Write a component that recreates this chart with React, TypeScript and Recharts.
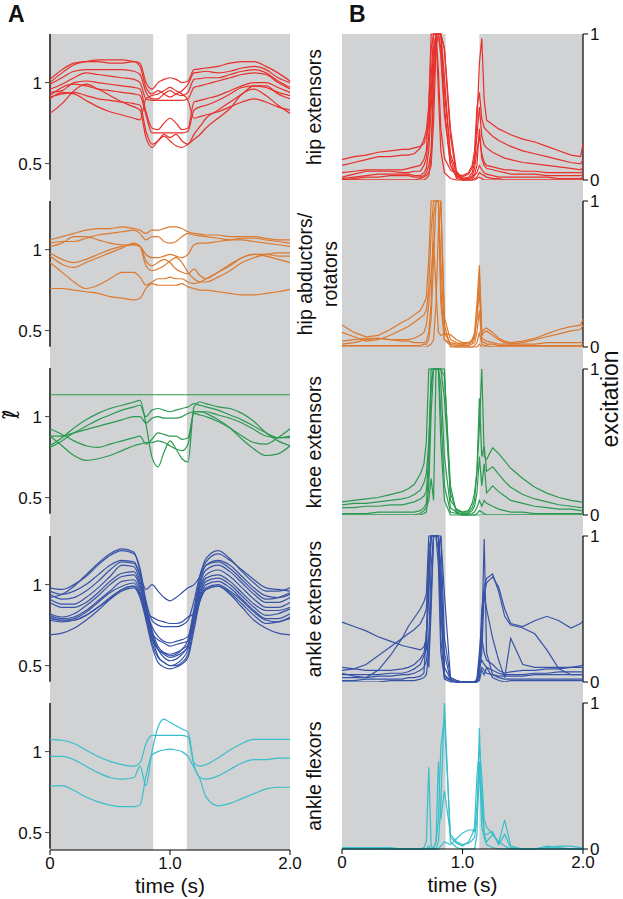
import React from 'react'
import { LineChart, Line, XAxis, YAxis, ReferenceArea, ReferenceLine, Label } from 'recharts'

const FONT = '"Liberation Sans", Arial, Helvetica, sans-serif'
const GRAY = '#d1d2d4'
const GAP_START = 0.86 // white band = swing phase
const GAP_END = 1.14

// time grid (s) for the fibre-length panels (A)
const leftTimes = [0, 0.1, 0.2, 0.3, 0.4, 0.5, 0.6, 0.7, 0.75, 0.8, 0.85, 0.9, 0.95, 1.0, 1.05, 1.1, 1.15, 1.2, 1.25, 1.3, 1.4, 1.5, 1.6, 1.7, 1.8, 1.9, 2.0]

// time grid (s) for the excitation panels (B)
const rightTimes = [0, 0.1, 0.2, 0.3, 0.4, 0.5, 0.55, 0.6, 0.65, 0.68, 0.7, 0.72, 0.74, 0.76, 0.78, 0.8, 0.82, 0.85, 0.9, 0.95, 1.0, 1.05, 1.08, 1.1, 1.12, 1.14, 1.16, 1.18, 1.2, 1.25, 1.3, 1.35, 1.4, 1.5, 1.6, 1.7, 1.8, 1.9, 1.98, 2.0]

const timeTicks = [0, 1, 2]
const lengthTicks = [0.5, 1]
const excitationTicks = [0, 1]

// ---- A: normalised fibre length ----
const hipExtensorLength = [
  [1.0, 1.06, 1.11, 1.13, 1.14, 1.14, 1.14, 1.13, 1.12, 1.0, 0.96, 1.0, 1.02, 1.03, 1.02, 1.0, 1.01, 1.08, 1.085, 1.09, 1.1, 1.12, 1.13, 1.13, 1.1, 1.06, 1.01],
  [1.02, 1.08, 1.12, 1.13, 1.13, 1.12, 1.12, 1.13, 1.1, 0.97, 0.93, 0.95, 0.93, 0.91, 0.93, 0.95, 0.99, 1.06, 1.065, 1.07, 1.06, 1.07, 1.09, 1.1, 1.08, 1.03, 1.0],
  [0.99, 1.03, 1.07, 1.08, 1.08, 1.08, 1.08, 1.07, 1.05, 0.94, 0.9, 0.9, 0.93, 0.95, 0.93, 0.92, 0.94, 1.02, 1.025, 1.03, 1.03, 1.05, 1.07, 1.08, 1.06, 1.01, 0.97],
  [0.96, 0.99, 1.03, 1.06, 1.05, 1.04, 1.03, 1.02, 1.0, 0.9, 0.89, 0.89, 0.89, 0.89, 0.89, 0.89, 0.9, 0.97, 0.98, 0.99, 1.01, 1.03, 1.05, 1.06, 1.05, 1.0, 0.96],
  [0.94, 0.95, 1.0, 1.01, 1.0, 0.99, 0.98, 0.97, 0.96, 0.82, 0.72, 0.71, 0.75, 0.78, 0.75, 0.71, 0.72, 0.88, 0.89, 0.9, 0.92, 0.95, 0.98, 1.0, 1.0, 0.97, 0.94],
  [0.92, 0.97, 0.99, 0.98, 0.96, 0.95, 0.94, 0.93, 0.92, 0.8, 0.69, 0.69, 0.69, 0.69, 0.69, 0.69, 0.7, 0.83, 0.85, 0.86, 0.89, 0.93, 0.97, 0.98, 0.97, 0.94, 0.92],
  [0.91, 0.93, 0.94, 0.92, 0.9, 0.89, 0.88, 0.87, 0.86, 0.7, 0.62, 0.64, 0.68, 0.66, 0.68, 0.64, 0.62, 0.68, 0.73, 0.78, 0.83, 0.88, 0.93, 0.98, 0.98, 0.93, 0.9],
  [0.81, 0.87, 0.95, 0.99, 0.96, 0.92, 0.88, 0.85, 0.83, 0.66, 0.6, 0.64, 0.67, 0.64, 0.61, 0.6, 0.62, 0.65, 0.68, 0.72, 0.78, 0.84, 0.93, 0.96, 0.92, 0.86, 0.81],
  [0.9, 0.94, 0.93, 0.89, 0.85, 0.82, 0.8, 0.78, 0.77, 0.9, 0.92, 0.93, 0.95, 0.97, 0.95, 0.93, 0.89, 0.78, 0.79, 0.8, 0.82, 0.85, 0.88, 0.9, 0.88, 0.85, 0.83],
]

const hipAbductorLength = [
  [1.06, 1.08, 1.1, 1.12, 1.13, 1.13, 1.14, 1.13, 1.12, 1.1, 1.12, 1.12, 1.13, 1.14, 1.14, 1.13, 1.11, 1.1, 1.095, 1.09, 1.09, 1.08, 1.08, 1.08, 1.07, 1.06, 1.06],
  [1.04, 1.05, 1.05, 1.07, 1.09, 1.1, 1.11, 1.12, 1.1, 1.06, 1.08, 1.08, 1.05, 1.04, 1.05, 1.08, 1.1, 1.09, 1.085, 1.08, 1.07, 1.06, 1.06, 1.05, 1.04, 1.03, 1.02],
  [0.98, 0.94, 0.92, 0.94, 0.97, 1.0, 1.02, 1.03, 1.02, 0.93, 0.9, 0.92, 0.94, 0.92, 0.88, 0.86, 0.85, 0.88, 0.84, 0.82, 0.86, 0.91, 0.95, 0.97, 0.97, 0.96, 0.96],
  [0.96, 0.91, 0.89, 0.92, 0.95, 0.98, 1.01, 1.04, 1.02, 0.9, 0.87, 0.88, 0.9, 0.93, 0.95, 0.92, 0.86, 0.82, 0.8, 0.8, 0.83, 0.87, 0.92, 0.95, 0.97, 0.98, 0.98],
  [0.92, 0.86, 0.8, 0.76, 0.78, 0.82, 0.86, 0.86, 0.83, 0.78, 0.8, 0.82, 0.82, 0.83, 0.82, 0.82, 0.8, 0.79, 0.8, 0.82, 0.86, 0.9, 0.95, 0.97, 0.96, 0.94, 0.92],
  [0.76, 0.76, 0.75, 0.74, 0.73, 0.71, 0.7, 0.69, 0.7, 0.76, 0.79, 0.78, 0.78, 0.78, 0.78, 0.79, 0.77, 0.76, 0.75, 0.75, 0.74, 0.73, 0.72, 0.72, 0.73, 0.74, 0.755],
  [1.02, 1.04, 1.08, 1.08, 1.06, 1.04, 1.03, 1.03, 1.02, 0.97, 0.95, 0.95, 0.96, 0.97, 0.96, 0.95, 0.97, 1.03, 1.04, 1.04, 1.05, 1.06, 1.07, 1.07, 1.06, 1.05, 1.04],
]

const kneeExtensorLength = [
  [1.135, 1.135, 1.135, 1.135, 1.135, 1.135, 1.135, 1.135, 1.135, 1.135, 1.135, 1.135, 1.135, 1.135, 1.135, 1.135, 1.135, 1.135, 1.135, 1.135, 1.135, 1.135, 1.135, 1.135, 1.135, 1.135, 1.135],
  [0.82, 0.87, 0.93, 0.98, 1.02, 1.05, 1.07, 1.09, 1.1, 0.95, 0.75, 0.69, 0.78, 0.85, 0.8, 0.74, 0.72, 1.06, 1.09, 1.08, 1.06, 1.05, 1.02, 0.97, 0.9, 0.85, 0.82],
  [0.81, 0.85, 0.9, 0.94, 0.98, 1.01, 1.04, 1.06, 1.07, 1.0, 1.04, 1.05, 1.04, 1.03, 1.04, 1.05, 1.06, 1.08, 1.07, 1.06, 1.04, 1.01, 0.98, 0.94, 0.9, 0.87, 0.87],
  [0.88, 0.88, 0.9, 0.92, 0.94, 0.96, 0.98, 1.0, 1.0, 0.96, 0.99, 1.0, 0.99, 0.99, 0.99, 1.0, 1.02, 1.03, 1.03, 1.03, 1.01, 0.99, 0.96, 0.92, 0.88, 0.87, 0.88],
  [0.925, 0.89, 0.85, 0.82, 0.81, 0.83, 0.85, 0.87, 0.88, 0.83, 0.86, 0.9, 0.89, 0.88, 0.88, 0.86, 0.87, 1.02, 1.01, 1.0, 0.97, 0.93, 0.88, 0.84, 0.83, 0.87, 0.925],
  [0.88, 0.82, 0.76, 0.73, 0.74, 0.76, 0.79, 0.82, 0.83, 0.84, 0.84, 0.85, 0.84, 0.82, 0.8, 0.79, 0.83, 1.03, 1.03, 1.02, 0.98, 0.93, 0.86, 0.8, 0.76, 0.77, 0.82],
]

const ankleExtensorLength = [
  [0.92, 0.94, 0.99, 1.06, 1.13, 1.19, 1.22, 1.2, 1.08, 0.88, 0.72, 0.62, 0.58, 0.56, 0.57, 0.6, 0.66, 0.85, 1.05, 1.16, 1.21, 1.16, 1.08, 1.01, 0.96, 0.96, 0.98],
  [0.98, 0.97, 1.0, 1.05, 1.12, 1.18, 1.21, 1.19, 1.1, 0.9, 0.78, 0.75, 0.74, 0.74, 0.74, 0.75, 0.78, 0.9, 1.06, 1.14, 1.19, 1.15, 1.09, 1.03, 0.98, 0.97, 0.96],
  [0.96, 0.94, 0.96, 1.0, 1.06, 1.12, 1.15, 1.14, 1.06, 0.97, 1.0, 0.96, 0.92, 0.9, 0.92, 0.95, 0.98, 1.0, 1.05, 1.12, 1.15, 1.12, 1.05, 0.98, 0.93, 0.92, 0.94],
  [0.94, 0.91, 0.92, 0.96, 1.02, 1.09, 1.14, 1.13, 1.05, 0.88, 0.7, 0.6, 0.55, 0.53, 0.54, 0.57, 0.62, 0.82, 1.02, 1.12, 1.14, 1.1, 1.03, 0.96, 0.91, 0.92, 0.95],
  [0.91, 0.88, 0.88, 0.92, 0.98, 1.05, 1.12, 1.11, 1.02, 0.86, 0.68, 0.56, 0.52, 0.5, 0.51, 0.54, 0.6, 0.8, 1.0, 1.09, 1.12, 1.08, 1.01, 0.94, 0.89, 0.89, 0.92],
  [0.89, 0.86, 0.86, 0.89, 0.95, 1.02, 1.07, 1.08, 1.0, 0.85, 0.74, 0.68, 0.65, 0.64, 0.65, 0.66, 0.68, 0.82, 0.98, 1.06, 1.09, 1.05, 0.98, 0.91, 0.86, 0.86, 0.89],
  [0.82, 0.8, 0.82, 0.87, 0.93, 1.0, 1.05, 1.06, 0.98, 0.84, 0.7, 0.66, 0.64, 0.62, 0.63, 0.64, 0.65, 0.8, 0.96, 1.04, 1.06, 1.02, 0.95, 0.88, 0.84, 0.84, 0.86],
  [0.81, 0.79, 0.8, 0.84, 0.9, 0.96, 1.02, 1.03, 0.96, 0.82, 0.68, 0.6, 0.57, 0.55, 0.56, 0.58, 0.62, 0.78, 0.94, 1.02, 1.04, 1.0, 0.93, 0.86, 0.81, 0.82, 0.85],
  [0.8, 0.78, 0.79, 0.83, 0.89, 0.95, 0.99, 1.01, 0.94, 0.8, 0.64, 0.55, 0.52, 0.5, 0.5, 0.52, 0.57, 0.75, 0.92, 1.0, 1.02, 0.98, 0.91, 0.84, 0.79, 0.79, 0.82],
  [0.79, 0.78, 0.78, 0.81, 0.86, 0.92, 0.97, 0.99, 0.93, 0.82, 0.8, 0.78, 0.77, 0.76, 0.76, 0.77, 0.8, 0.82, 0.92, 0.98, 1.0, 0.96, 0.9, 0.83, 0.78, 0.77, 0.8],
  [0.78, 0.77, 0.78, 0.81, 0.86, 0.91, 0.96, 0.98, 0.92, 0.78, 0.62, 0.52, 0.49, 0.48, 0.49, 0.51, 0.55, 0.72, 0.9, 0.97, 0.99, 0.95, 0.88, 0.81, 0.76, 0.77, 0.79],
  [0.69, 0.7, 0.73, 0.78, 0.84, 0.91, 0.97, 0.99, 0.93, 0.8, 0.66, 0.6, 0.58, 0.57, 0.58, 0.6, 0.63, 0.76, 0.9, 0.97, 0.99, 0.94, 0.86, 0.78, 0.73, 0.7, 0.69],
]

const ankleFlexorLength = [
  [1.076, 1.07, 1.05, 1.01, 0.97, 0.94, 0.92, 0.91, 0.93, 1.05, 1.1, 1.1, 1.1, 1.1, 1.1, 1.1, 1.09, 0.93, 0.91, 0.92, 0.96, 1.01, 1.05, 1.075, 1.076, 1.076, 1.076],
  [0.97, 0.97, 0.95, 0.91, 0.87, 0.84, 0.83, 0.84, 0.91, 0.79, 1.0, 1.15, 1.2, 1.18, 1.16, 1.14, 1.12, 0.92, 0.84, 0.83, 0.85, 0.89, 0.93, 0.95, 0.95, 0.96, 0.96],
  [0.786, 0.79, 0.76, 0.72, 0.69, 0.67, 0.66, 0.66, 0.67, 0.85, 0.98, 1.0, 1.01, 1.015, 1.01, 1.0, 0.97, 0.9, 0.83, 0.72, 0.665, 0.68, 0.71, 0.74, 0.77, 0.78, 0.78],
]

// ---- B: excitation ----
const hipExtensorExc = [
  [0.14, 0.16, 0.17, 0.19, 0.2, 0.21, 0.21, 0.22, 0.23, 0.25, 0.3, 0.38, 0.7, 1, 1, 1, 0.85, 0.45, 0.1, 0.03, 0.02, 0.04, 0.08, 0.15, 0.4, 0.8, 0.97, 0.55, 0.41, 0.38, 0.35, 0.33, 0.31, 0.28, 0.26, 0.23, 0.2, 0.17, 0.16, 0.25],
  [0.1, 0.12, 0.14, 0.16, 0.16, 0.17, 0.17, 0.18, 0.22, 0.28, 0.34, 0.5, 1, 1, 1, 0.75, 0.35, 0.15, 0.07, 0.04, 0.03, 0.05, 0.1, 0.2, 0.5, 0.6, 0.42, 0.36, 0.34, 0.3, 0.27, 0.25, 0.23, 0.2, 0.18, 0.16, 0.14, 0.12, 0.11, 0.14],
  [0.05, 0.06, 0.07, 0.07, 0.07, 0.07, 0.08, 0.09, 0.1, 0.14, 0.2, 0.5, 0.9, 1, 1, 1, 1, 0.6, 0.18, 0.05, 0.01, 0.02, 0.05, 0.12, 0.3, 0.5, 0.3, 0.24, 0.22, 0.19, 0.17, 0.15, 0.14, 0.12, 0.11, 0.1, 0.09, 0.08, 0.07, 0.09],
  [0.02, 0.04, 0.06, 0.06, 0.06, 0.05, 0.05, 0.06, 0.06, 0.1, 0.15, 0.3, 0.6, 0.9, 1, 1, 1, 0.9, 0.35, 0.06, 0.01, 0.01, 0.03, 0.08, 0.2, 0.3, 0.18, 0.12, 0.1, 0.09, 0.08, 0.07, 0.07, 0.06, 0.06, 0.05, 0.05, 0.05, 0.05, 0.06],
  [0.01, 0.02, 0.03, 0.04, 0.04, 0.04, 0.04, 0.03, 0.03, 0.05, 0.08, 0.2, 0.5, 0.8, 1, 1, 0.9, 0.5, 0.1, 0.02, 0.01, 0.01, 0.02, 0.04, 0.1, 0.35, 0.15, 0.1, 0.08, 0.07, 0.06, 0.05, 0.04, 0.04, 0.04, 0.03, 0.03, 0.03, 0.03, 0.04],
  [0, 0.01, 0.02, 0.02, 0.03, 0.03, 0.03, 0.02, 0.02, 0.03, 0.05, 0.1, 0.2, 0.6, 1, 1, 1, 0.9, 0.3, 0.03, 0, 0, 0.01, 0.03, 0.05, 0.1, 0.07, 0.05, 0.04, 0.03, 0.02, 0.02, 0.02, 0.02, 0.02, 0.02, 0.01, 0.01, 0.01, 0.02],
  [0, 0, 0, 0, 0, 0, 0, 0, 0.01, 0.02, 0.03, 0.05, 0.1, 0.4, 0.9, 1, 1, 0.7, 0.15, 0.01, 0, 0, 0, 0.01, 0.02, 0.05, 0.04, 0.03, 0.02, 0.01, 0.01, 0, 0, 0, 0, 0, 0, 0, 0, 0.01],
  [0, 0, 0, 0, 0, 0, 0, 0, 0, 0, 0.01, 0.03, 0.15, 0.8, 1, 0.6, 0.2, 0.05, 0.01, 0, 0, 0, 0, 0, 0.01, 0.02, 0.01, 0, 0, 0, 0, 0, 0, 0, 0, 0, 0, 0, 0, 0],
]

const hipAbductorExc = [
  [0.15, 0.1, 0.07, 0.08, 0.12, 0.17, 0.19, 0.22, 0.25, 0.3, 0.34, 0.6, 1, 1, 1, 1, 0.3, 0.05, 0.03, 0.02, 0.02, 0.03, 0.05, 0.1, 0.3, 0.56, 0.1, 0.12, 0.13, 0.1, 0.06, 0.04, 0.03, 0.04, 0.06, 0.09, 0.12, 0.14, 0.15, 0.19],
  [0.1, 0.07, 0.04, 0.05, 0.08, 0.12, 0.14, 0.17, 0.2, 0.22, 0.25, 0.4, 0.8, 1, 1, 1, 1, 0.2, 0.05, 0.03, 0.02, 0.02, 0.03, 0.06, 0.2, 0.5, 0.08, 0.1, 0.11, 0.08, 0.05, 0.03, 0.02, 0.03, 0.05, 0.07, 0.09, 0.11, 0.12, 0.15],
  [0.04, 0.05, 0.06, 0.06, 0.05, 0.05, 0.05, 0.06, 0.08, 0.1, 0.15, 0.3, 0.5, 0.72, 0.4, 0.1, 0.08, 0.09, 0.085, 0.05, 0.03, 0.03, 0.04, 0.08, 0.2, 0.38, 0.06, 0.05, 0.04, 0.03, 0.02, 0.02, 0.02, 0.02, 0.02, 0.03, 0.03, 0.03, 0.03, 0.04],
  [0.02, 0.03, 0.05, 0.06, 0.05, 0.04, 0.04, 0.03, 0.03, 0.03, 0.04, 0.1, 0.3, 0.9, 1, 1, 0.6, 0.1, 0.02, 0.01, 0.01, 0.01, 0.02, 0.03, 0.1, 0.25, 0.04, 0.03, 0.02, 0.02, 0.01, 0.01, 0.01, 0.01, 0.01, 0.01, 0.01, 0.01, 0.01, 0.02],
  [0.01, 0.01, 0.01, 0.01, 0.01, 0.01, 0.01, 0.01, 0.01, 0.02, 0.02, 0.05, 0.2, 0.6, 1, 1, 0.4, 0.05, 0.01, 0, 0, 0, 0, 0.01, 0.03, 0.1, 0.02, 0.01, 0.01, 0, 0, 0, 0, 0, 0, 0, 0, 0, 0, 0],
  [0, 0, 0, 0, 0, 0, 0, 0, 0, 0, 0, 0.01, 0.02, 0.05, 0.3, 0.8, 1, 0.15, 0, 0, 0, 0, 0, 0, 0, 0.02, 0, 0, 0, 0, 0, 0, 0, 0, 0, 0, 0, 0, 0, 0],
]

const kneeExtensorExc = [
  [0.09, 0.1, 0.11, 0.12, 0.14, 0.16, 0.18, 0.21, 0.28, 0.35, 0.5, 1, 1, 1, 1, 1, 1, 1, 0.1, 0.04, 0.02, 0.03, 0.08, 0.15, 0.3, 0.6, 1, 0.4, 0.38, 0.46, 0.42, 0.37, 0.32, 0.25, 0.19, 0.15, 0.12, 0.1, 0.09, 0.09],
  [0.07, 0.08, 0.08, 0.09, 0.1, 0.11, 0.12, 0.14, 0.17, 0.22, 0.28, 0.5, 0.9, 1, 1, 1, 1, 0.8, 0.15, 0.03, 0.02, 0.02, 0.05, 0.1, 0.3, 0.8, 0.4, 0.47, 0.3, 0.33, 0.28, 0.23, 0.19, 0.14, 0.11, 0.09, 0.07, 0.06, 0.05, 0.05],
  [0.05, 0.05, 0.06, 0.06, 0.07, 0.07, 0.08, 0.09, 0.11, 0.13, 0.16, 0.4, 1, 1, 1, 1, 0.9, 0.4, 0.05, 0.02, 0.01, 0.01, 0.03, 0.06, 0.15, 0.4, 0.2, 0.35, 0.15, 0.2, 0.16, 0.13, 0.1, 0.08, 0.06, 0.05, 0.04, 0.04, 0.03, 0.03],
  [0.01, 0.01, 0.01, 0.02, 0.02, 0.02, 0.02, 0.02, 0.03, 0.05, 0.08, 0.3, 0.9, 1, 1, 1, 0.7, 0.2, 0.02, 0.01, 0, 0, 0.01, 0.02, 0.05, 0.1, 0.06, 0.1, 0.08, 0.06, 0.04, 0.03, 0.02, 0.02, 0.01, 0.01, 0.01, 0.01, 0.01, 0.01],
  [0, 0, 0, 0, 0, 0, 0, 0, 0, 0.01, 0.02, 0.2, 0.7, 1, 1, 1, 0.5, 0.1, 0, 0, 0, 0, 0, 0, 0.01, 0.03, 0.02, 0.01, 0, 0, 0, 0, 0, 0, 0, 0, 0, 0, 0, 0],
  [0, 0, 0, 0, 0, 0, 0, 0, 0.01, 0.03, 0.05, 0.1, 0.25, 0.1, 1, 1, 1, 0.95, 0.2, 0.01, 0, 0, 0, 0, 0, 0, 0, 0, 0, 0, 0, 0, 0, 0, 0, 0, 0, 0, 0, 0],
]

const ankleExtensorExc = [
  [0.41, 0.38, 0.35, 0.31, 0.28, 0.25, 0.24, 0.23, 0.22, 0.24, 0.3, 0.6, 1, 1, 1, 1, 0.5, 0.05, 0.01, 0, 0, 0, 0, 0, 0.01, 0.1, 0.5, 0.65, 0.71, 0.74, 0.62, 0.45, 0.39, 0.37, 0.33, 0.22, 0.09, 0.05, 0.05, 0.05],
  [0.08, 0.09, 0.12, 0.18, 0.24, 0.3, 0.33, 0.36, 0.4, 0.45, 0.5, 0.8, 1, 1, 1, 1, 0.3, 0.02, 0, 0, 0, 0, 0, 0, 0.02, 0.2, 0.4, 0.6, 0.68, 0.72, 0.65, 0.5, 0.4, 0.38, 0.42, 0.45, 0.42, 0.37, 0.4, 0.42],
  [0.06, 0.04, 0.03, 0.08, 0.18, 0.3, 0.38, 0.44, 0.5, 0.55, 0.6, 1, 1, 1, 1, 0.8, 0.2, 0.03, 0.01, 0, 0, 0, 0, 0, 0.02, 0.1, 0.2, 0.6, 0.5, 0.3, 0.15, 0.03, 0.3, 0.12, 0.1, 0.1, 0.1, 0.1, 0.11, 0.12],
  [0.1, 0.09, 0.08, 0.08, 0.08, 0.09, 0.1, 0.12, 0.16, 0.2, 0.3, 0.9, 1, 1, 1, 1, 0.6, 0.1, 0.02, 0, 0, 0, 0, 0, 0.01, 0.15, 0.3, 0.2, 0.15, 0.12, 0.08, 0.06, 0.07, 0.08, 0.08, 0.09, 0.09, 0.1, 0.1, 0.1],
  [0.05, 0.05, 0.05, 0.05, 0.06, 0.06, 0.07, 0.09, 0.12, 0.18, 0.22, 0.7, 1, 1, 1, 1, 0.8, 0.05, 0.01, 0, 0, 0, 0, 0, 0, 0.1, 0.15, 0.12, 0.1, 0.08, 0.06, 0.05, 0.05, 0.05, 0.06, 0.06, 0.07, 0.07, 0.07, 0.07],
  [0.03, 0.03, 0.03, 0.04, 0.04, 0.05, 0.05, 0.06, 0.08, 0.1, 0.14, 0.3, 0.8, 1, 1, 1, 1, 0.3, 0.03, 0.01, 0, 0, 0, 0, 0, 0.05, 0.1, 0.08, 0.06, 0.05, 0.04, 0.04, 0.04, 0.04, 0.05, 0.05, 0.05, 0.05, 0.05, 0.05],
  [0.01, 0.01, 0.02, 0.02, 0.02, 0.02, 0.03, 0.03, 0.04, 0.06, 0.35, 0.1, 0.5, 1, 1, 1, 0.7, 0.2, 0.01, 0, 0, 0, 0, 0, 0, 0.02, 0.3, 0.98, 0.2, 0.05, 0.03, 0.02, 0.02, 0.02, 0.02, 0.02, 0.02, 0.02, 0.02, 0.02],
  [0, 0, 0, 0, 0.01, 0.01, 0.01, 0.01, 0.02, 0.03, 0.05, 0.2, 0.6, 1, 1, 0.9, 1, 0.6, 0.03, 0.01, 0, 0, 0, 0, 0, 0.01, 0.08, 0.05, 0.1, 0.03, 0.01, 0, 0.01, 0.01, 0.01, 0.01, 0.01, 0.01, 0.01, 0.01],
]

const ankleFlexorExc = [
  [0, 0.01, 0.01, 0.01, 0, 0, 0, 0, 0, 0.01, 0.05, 0.56, 0.02, 0, 0, 0.05, 0.3, 1, 0.05, 0.01, 0, 0, 0, 0, 0.1, 0.83, 0.3, 0.1, 0.05, 0.1, 0.04, 0.2, 0.02, 0, 0, 0.01, 0.02, 0.02, 0.01, 0],
  [0, 0, 0, 0, 0, 0, 0, 0, 0, 0, 0, 0.02, 0, 0, 0.05, 0.2, 0.7, 0.9, 0.08, 0.04, 0.02, 0.05, 0.1, 0.15, 0.5, 0.7, 0.5, 0.2, 0.15, 0.1, 0.05, 0.02, 0, 0, 0, 0, 0, 0, 0, 0],
  [0.01, 0.01, 0.01, 0.01, 0.01, 0, 0, 0, 0, 0, 0, 0, 0, 0, 0, 0, 0.02, 0.05, 0.03, 0.07, 0.11, 0.13, 0.13, 0.12, 0.3, 0.6, 0.15, 0.08, 0.03, 0.01, 0, 0, 0, 0, 0, 0.02, 0.01, 0, 0, 0],
  [0, 0, 0, 0, 0, 0, 0, 0, 0, 0, 0, 0, 0, 0.01, 0.05, 0.6, 0.2, 0.4, 0.1, 0.05, 0.03, 0.04, 0.06, 0.08, 0.2, 0.5, 0.4, 0.1, 0.1, 0.12, 0.03, 0.1, 0.01, 0, 0, 0, 0, 0, 0, 0],
]

const muscleNames = ['hip extensors', 'hip abductors/\nrotators', 'knee extensors', 'ankle extensors', 'ankle flexors']
const muscleColors = ['#e8302a', '#dc792e', '#2a9a50', '#3753a6', '#38bfca']
const lengthSets = [hipExtensorLength, hipAbductorLength, kneeExtensorLength, ankleExtensorLength, ankleFlexorLength]
const excitationSets = [hipExtensorExc, hipAbductorExc, kneeExtensorExc, ankleExtensorExc, ankleFlexorExc]

function toRows(times: number[], series: number[][]) {
  return times.map((t, i) => {
    const row: Record<string, number> = { t }
    series.forEach((s, k) => {
      row['s' + k] = s[i]
    })
    return row
  })
}

const fmtTime = (v: number) => (v === 0 ? '0' : v.toFixed(1))

const timeLabel = (props: any) => {
  const { x, y, width } = props.viewBox
  return (
    <text x={x + width / 2} y={y + 43} textAnchor="middle" fontSize={21} fontFamily={FONT} fill="#111">
      time (s)
    </text>
  )
}

// left column geometry (whole pixels so the gray band has no seams)
const L_TOP = 33.6
const L_STEP = 167.4
const L_PX = 162 // px per unit of length
const L_HI = 1.3
const leftTop = (i: number) => Math.round(L_TOP + L_STEP * i)

function LengthPanel({ idx }: { idx: number }) {
  const last = idx === 4
  const series = lengthSets[idx]
  const color = muscleColors[idx]
  const top = leftTop(idx)
  const plotH = last ? 850 - top : leftTop(idx + 1) - top
  const lo = L_HI - plotH / L_PX
  const data = toRows(leftTimes, series)
  return (
    <div style={{ position: 'absolute', left: 0, top }}>
      <LineChart width={290} height={plotH + (last ? 50 : 0)} data={data} margin={{ top: 0, right: 0, bottom: 0, left: 0 }}>
        <XAxis
          dataKey="t"
          type="number"
          domain={[0, 2]}
          ticks={timeTicks}
          interval={0}
          hide={!last}
          height={50}
          stroke="#000"
          tickSize={5}
          tickMargin={2}
          tick={{ fontSize: 17, fill: '#111', fontFamily: FONT }}
          tickFormatter={fmtTime}
        >
          {last && <Label content={timeLabel} />}
        </XAxis>
        <YAxis
          type="number"
          domain={[lo, L_HI]}
          ticks={lengthTicks}
          interval={0}
          width={50}
          axisLine={false}
          tickLine={{ stroke: '#444' }}
          tickSize={5}
          tickMargin={3}
          tick={{ fontSize: 17, fill: '#111', fontFamily: FONT }}
          tickFormatter={(v: number) => String(v)}
        >
          {idx === 2 && (
            <Label
              content={(p: any) => (
                <text
                  x={19}
                  y={p.viewBox.y + 46}
                  transform={`rotate(-90, 19, ${p.viewBox.y + 46})`}
                  textAnchor="middle"
                  fontSize={22}
                  fontFamily='"DejaVu Sans", sans-serif'
                  fill="#111"
                >
                  ℓ̃
                </text>
              )}
            />
          )}
        </YAxis>
        <ReferenceArea x1={0} x2={GAP_START} y1={lo} y2={L_HI} fill={GRAY} fillOpacity={1} stroke="none" />
        <ReferenceArea x1={GAP_END} x2={2} y1={lo} y2={L_HI} fill={GRAY} fillOpacity={1} stroke="none" />
        <ReferenceLine segment={[{ x: 0, y: 0.4 }, { x: 0, y: L_HI }]} stroke="#4a4a4a" strokeWidth={2} />
        {series.map((_, k) => (
          <Line
            key={k}
            dataKey={'s' + k}
            type="monotone"
            stroke={color}
            strokeWidth={1.2}
            dot={false}
            activeDot={false}
            isAnimationActive={false}
          />
        ))}
      </LineChart>
    </div>
  )
}

// right column geometry
const R_TOP = 34
const R_STEP = 167.25
const R_PX = 146 // px per unit of excitation
const zeroLine = (i: number) => Math.round(R_TOP + R_PX + R_STEP * i)

function ExcitationPanel({ idx }: { idx: number }) {
  const last = idx === 4
  const series = excitationSets[idx]
  const color = muscleColors[idx]
  const top = idx === 0 ? R_TOP : zeroLine(idx - 1)
  const plotH = zeroLine(idx) - top
  const hi = plotH / R_PX
  const data = toRows(rightTimes, series)
  const lines = muscleNames[idx].split('\n')

  const nameLabel = (p: any) => {
    const { y, height } = p.viewBox
    const cy = y + ((hi - 0.5) / hi) * height
    if (lines.length === 1) {
      return (
        <text x={31} y={cy} transform={`rotate(-90, 31, ${cy})`} textAnchor="middle" fontSize={19.5} fontFamily={FONT} fill="#111">
          {lines[0]}
        </text>
      )
    }
    return (
      <g>
        {lines.map((ln, i) => {
          const bx = 22 + i * 25
          return (
            <text key={i} x={bx} y={cy} transform={`rotate(-90, ${bx}, ${cy})`} textAnchor="middle" fontSize={19.5} fontFamily={FONT} fill="#111">
              {ln}
            </text>
          )
        })}
      </g>
    )
  }

  const excitationLabel = (p: any) => {
    const bx = p.viewBox.x + 35
    const cy = 52
    return (
      <text x={bx} y={cy} transform={`rotate(-90, ${bx}, ${cy})`} textAnchor="middle" fontSize={23} fontFamily={FONT} fill="#111">
        excitation
      </text>
    )
  }

  return (
    <div style={{ position: 'absolute', left: 290, top }}>
      <LineChart width={333} height={plotH + (last ? 50 : 0)} data={data} margin={{ top: 0, right: 0, bottom: 0, left: 0 }}>
        <XAxis
          dataKey="t"
          type="number"
          domain={[0, 2]}
          ticks={timeTicks}
          interval={0}
          hide={!last}
          height={50}
          stroke="#000"
          tickSize={5}
          tickMargin={2}
          tick={{ fontSize: 17, fill: '#111', fontFamily: FONT }}
          tickFormatter={fmtTime}
        >
          {last && <Label content={timeLabel} />}
        </XAxis>
        <YAxis yAxisId="name" orientation="left" type="number" domain={[0, hi]} width={52} tick={false} axisLine={false} tickLine={false}>
          <Label content={nameLabel} />
        </YAxis>
        <YAxis
          yAxisId="v"
          orientation="right"
          type="number"
          domain={[0, hi]}
          ticks={excitationTicks}
          interval={0}
          width={40}
          axisLine={false}
          tickLine={{ stroke: '#000' }}
          tickSize={5}
          tickMargin={2}
          tick={{ fontSize: 17, fill: '#111', fontFamily: FONT }}
        >
          {idx === 2 && <Label content={excitationLabel} />}
        </YAxis>
        <ReferenceArea yAxisId="v" x1={0} x2={GAP_START} y1={0} y2={hi} fill={GRAY} fillOpacity={1} stroke="none" />
        <ReferenceArea yAxisId="v" x1={GAP_END} x2={2} y1={0} y2={hi} fill={GRAY} fillOpacity={1} stroke="none" />
        <ReferenceLine yAxisId="v" segment={[{ x: 2, y: 0 }, { x: 2, y: 1 }]} stroke="#000" strokeWidth={1.2} />
        {series.map((_, k) => (
          <Line
            key={k}
            yAxisId="v"
            dataKey={'s' + k}
            type="linear"
            stroke={color}
            strokeWidth={1.2}
            dot={false}
            activeDot={false}
            isAnimationActive={false}
          />
        ))}
      </LineChart>
    </div>
  )
}

export default function App() {
  const panels = [0, 1, 2, 3, 4]
  return (
    <div style={{ position: 'absolute', left: 0, top: 0, width: 623, height: 899, background: '#fff', fontFamily: FONT }}>
      <style>{'.recharts-surface { overflow: visible; }'}</style>
      <div style={{ position: 'absolute', left: 8, top: 1, fontSize: 23, fontWeight: 'bold', color: '#111' }}>A</div>
      <div style={{ position: 'absolute', left: 349, top: 1, fontSize: 23, fontWeight: 'bold', color: '#111' }}>B</div>
      {panels.map((i) => (
        <LengthPanel key={'l' + i} idx={i} />
      ))}
      {panels.map((i) => (
        <ExcitationPanel key={'r' + i} idx={i} />
      ))}
    </div>
  )
}
